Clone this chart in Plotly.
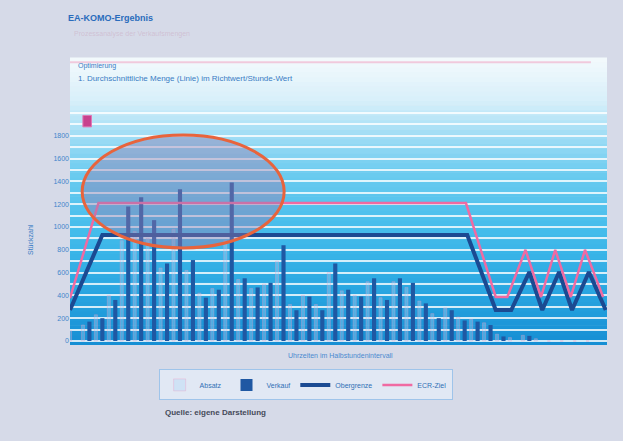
import numpy as np
import plotly.graph_objects as go

# ---------------- data ----------------
slots = list(range(0, 41))
verkauf = [0, 170, 200, 360, 1180, 1260, 1060, 680, 1330, 710, 380, 450, 1390, 550, 470,
           510, 840, 270, 390, 270, 680, 450, 390, 550, 360, 550, 510, 330, 200, 270,
           180, 170, 140, 40, 0, 45, 0, 0, 0, 0, 0]
absatz = [90, 140, 230, 400, 880, 960, 900, 640, 980, 620, 420, 460, 880, 540, 460,
          500, 700, 320, 400, 320, 600, 440, 400, 520, 380, 520, 470, 350, 240, 290,
          210, 190, 160, 60, 30, 50, 20, 0, 0, 0, 0]

ober_x = [-0.5, 2.0, 30.2, 32.4, 33.6, 35.0, 36.0, 37.3, 38.3, 39.6, 40.9]
ober_y = [272, 930, 930, 272, 272, 605, 272, 605, 272, 605, 272]
ziel_x = [-0.5, 1.7, 30.1, 32.4, 33.3, 34.7, 35.9, 37.0, 38.2, 39.3, 40.7]
ziel_y = [376, 1210, 1210, 386, 386, 800, 386, 800, 386, 800, 386]

ytick_vals = list(range(0, 2100, 100))
ytick_text = [str(v) if (v % 200 == 0 and v <= 1800) else "" for v in ytick_vals]

names = ["Absatz", "Verkauf", "Obergrenze", "ECR-Ziel"]

# ---------------- figure ----------------
fig = go.Figure()

fig.add_trace(go.Bar(x=slots, y=absatz, name=names[0], offset=-0.62, width=0.24,
                     marker=dict(color="rgba(175,215,245,0.35)",
                                 line=dict(color="rgba(240,150,195,0.55)", width=0.6))))
fig.add_trace(go.Bar(x=slots, y=verkauf, name=names[1], offset=-0.16, width=0.32,
                     marker=dict(color="#1f58a3", line=dict(width=0))))
fig.add_trace(go.Scatter(x=ober_x, y=ober_y, mode="lines", name=names[2],
                         line=dict(color="#1b4a92", width=4)))
fig.add_trace(go.Scatter(x=ziel_x, y=ziel_y, mode="lines", name=names[3],
                         line=dict(color="#f06aa2", width=2.5)))

# gradient background bands
stops_p = [0.0, 0.2, 0.4, 0.6, 0.75, 0.85, 1.0]
stops_c = [(22, 142, 212), (42, 168, 226), (69, 189, 236), (108, 204, 240),
           (168, 224, 246), (216, 240, 250), (244, 250, 253)]
nb = 60
shapes = []
for k in range(nb):
    y0 = k / nb
    y1 = (k + 1) / nb
    ym = (y0 + y1) / 2
    rgb = [int(np.interp(ym, stops_p, [c[j] for c in stops_c])) for j in range(3)]
    shapes.append(dict(type="rect", xref="paper", yref="paper", x0=0, x1=1, y0=y0, y1=y1 + 0.002,
                       fillcolor="rgb(%d,%d,%d)" % tuple(rgb), line=dict(width=0), layer="below"))
# pink top edge strip
shapes.append(dict(type="line", xref="paper", yref="paper", x0=0.0, x1=0.97, y0=0.985, y1=0.985,
                   line=dict(color="rgba(240,170,200,0.6)", width=2), layer="below"))
# highlight ellipse
shapes.append(dict(type="circle", xref="x", yref="y", x0=0.44, x1=16.05, y0=816, y1=1807,
                   fillcolor="rgba(150,125,175,0.42)", line=dict(color="#e8643c", width=3),
                   layer="above"))
# magenta icon
shapes.append(dict(type="rect", xref="paper", yref="paper", x0=0.024, x1=0.04, y0=0.76, y1=0.8,
                   fillcolor="#c8428e", line=dict(color="#e07ab5", width=1), layer="above"))

fig.update_layout(
    width=623, height=441,
    margin=dict(l=70, r=16, t=58, b=96),
    paper_bgcolor="#d6dae8",
    plot_bgcolor="#d6dae8",
    barmode="overlay",
    showlegend=True,
    legend=dict(orientation="h", x=0.165, y=-0.085, xanchor="left", yanchor="top",
                bgcolor="#e1e8f4", bordercolor="#9fc4ea", borderwidth=1,
                font=dict(size=7, color="#2f6fb5", family="Arial"), itemwidth=30),
    xaxis=dict(range=[-0.5, 41.0], showticklabels=False, showgrid=False, zeroline=False,
               ticks="", showline=False),
    yaxis=dict(range=[-35, 2482], tickvals=ytick_vals, ticktext=ytick_text,
               showgrid=True, gridcolor="rgba(255,255,255,0.8)", gridwidth=2,
               zeroline=False, ticks="", showline=False,
               tickfont=dict(size=7, color="#3f86cc", family="Arial")),
    shapes=shapes,
)

texts = []
def add_text(text, x, y, size, color, xanchor="left", textangle=0, bold=False):
    # figure-pixel position converted to paper coords of the plotting area
    pl, pr, pt, pb = 70, 607, 58, 345
    xp = (x - pl) / (pr - pl)
    yp = (pb - y) / (pb - pt)
    texts.append(dict(text=("<b>%s</b>" % text) if bold else text, x=xp, y=yp,
                      xref="paper", yref="paper", xanchor=xanchor, yanchor="middle",
                      showarrow=False, textangle=textangle,
                      font=dict(size=size, color=color, family="Arial")))

add_text("EA-KOMO-Ergebnis", 66, 18, 9, "#2a6cbc", bold=True)
add_text("Prozessanalyse der Verkaufsmengen", 72, 34, 7, "rgba(200,160,185,0.45)")
add_text("Optimierung", 76, 66, 7, "#3a7cc4")
add_text("1. Durchschnittliche Menge (Linie) im Richtwert/Stunde-Wert", 76, 79, 8, "#3a7cc4")
add_text("Stückzahl", 30, 240, 7, "#3a7cc4", xanchor="center", textangle=-90)
add_text("Uhrzeiten im Halbstundenintervall", 340, 355, 7, "#4a8ad0", xanchor="center")
add_text("Quelle: eigene Darstellung", 163, 412, 8, "#454a5a", bold=True)
fig.update_layout(annotations=texts)

fig.write_html("out.html")
